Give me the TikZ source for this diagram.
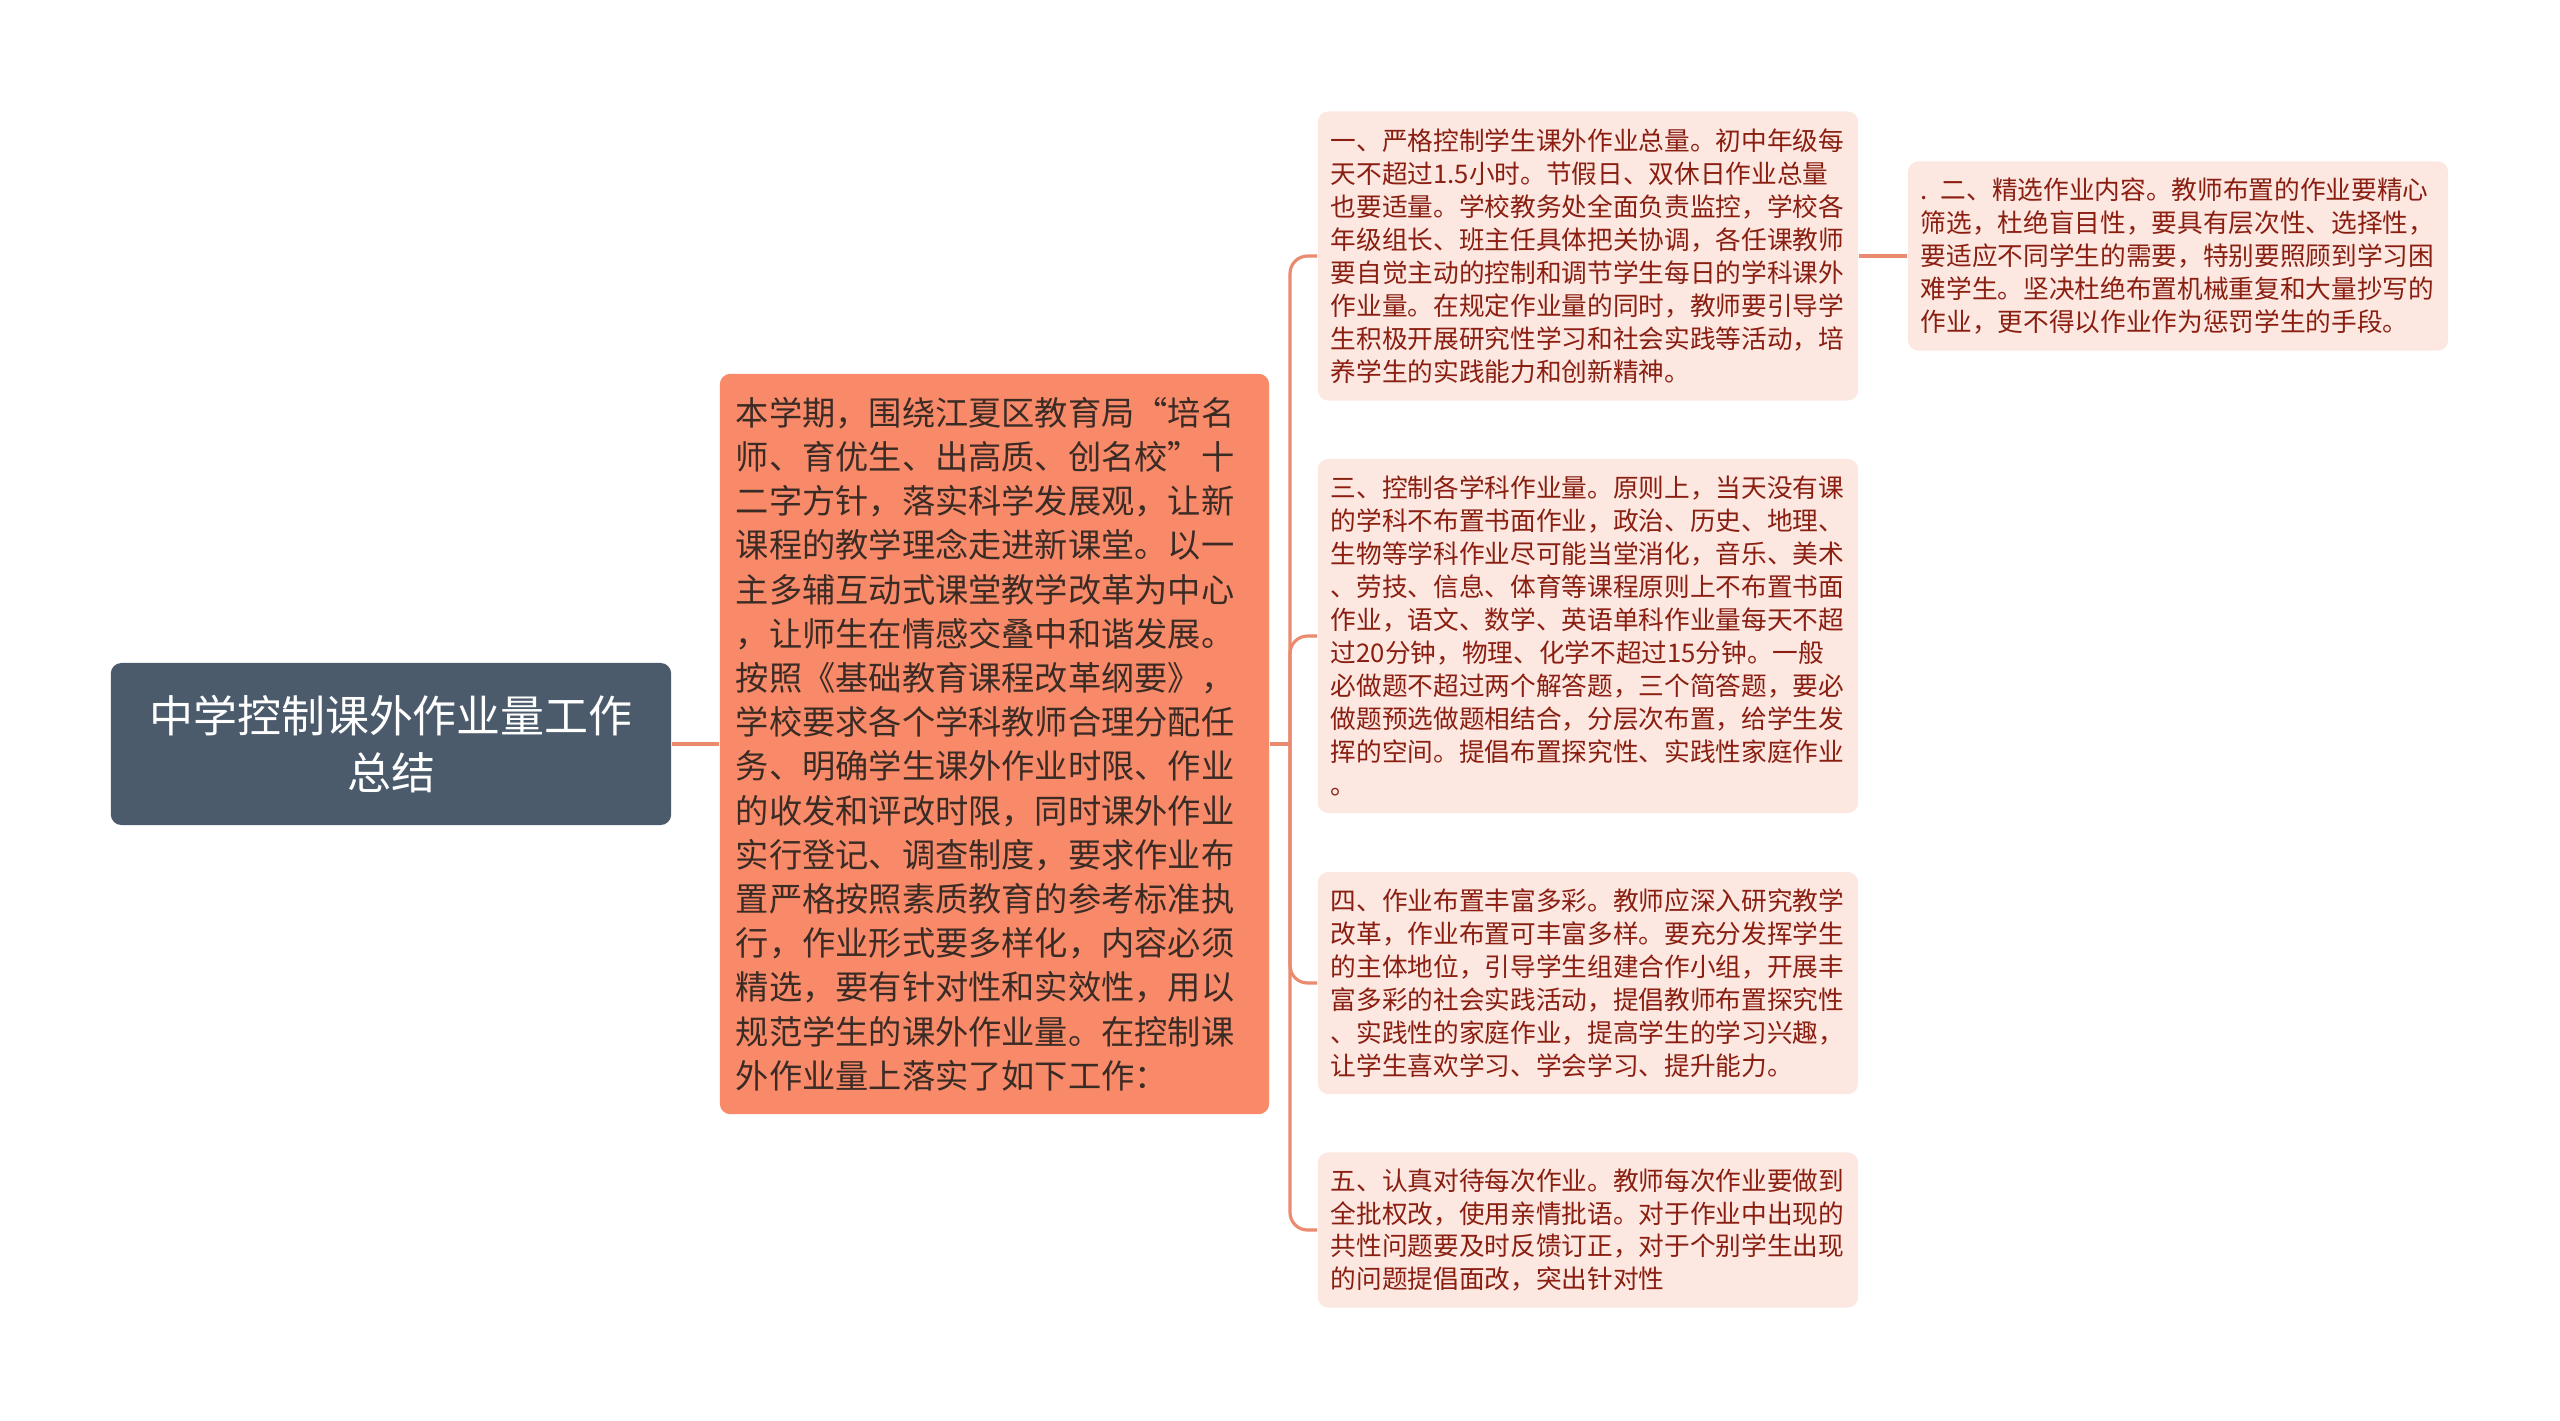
\documentclass[tikz,border=0pt]{standalone}
\usepackage{fontspec}
\setmainfont{Noto Sans CJK SC}
\definecolor{rootfill}{HTML}{4B5B6B}
\definecolor{mainfill}{HTML}{F88A69}
\definecolor{subfill}{HTML}{FCE7E1}
\definecolor{subtext}{HTML}{8A1F11}
\definecolor{maintext}{HTML}{3B2B25}
\definecolor{linkcol}{HTML}{EA8A6E}

\begin{document}
\begin{tikzpicture}[x=0.01cm, y=-0.01cm,
    link/.style={draw=linkcol, line width=0.9pt},
    rootbox/.style={fill=rootfill, rounded corners=3pt, text=white, align=center,
        minimum width=5.6cm, minimum height=1.62cm, font=\fontsize{12.5}{16.2}\selectfont},
    mainbox/.style={fill=mainfill, rounded corners=3pt, text=maintext, align=left,
        text width=5.17cm, inner xsep=0.16cm, minimum height=7.4cm,
        font=\fontsize{9.45}{12.57}\selectfont},
    subbox/.style={fill=subfill, rounded corners=3pt, text=subtext, align=left,
        text width=5.14cm, inner xsep=0.13cm, font=\fontsize{7.3}{9.37}\selectfont}]
    \useasboundingbox (0,0) rectangle (2560,1420);
    \node[rootbox] (root) at (391,744) {中学控制课外作业量工作\\总结};
    \node[mainbox] (main) at (994.5,744) {本学期，围绕江夏区教育局“培名\\师、育优生、出高质、创名校”十\\二字方针，落实科学发展观，让新\\课程的教学理念走进新课堂。以一\\主多辅互动式课堂教学改革为中心\\，让师生在情感交叠中和谐发展。\\按照《基础教育课程改革纲要》，\\学校要求各个学科教师合理分配任\\务、明确学生课外作业时限、作业\\的收发和评改时限，同时课外作业\\实行登记、调查制度，要求作业布\\置严格按照素质教育的参考标准执\\行，作业形式要多样化，内容必须\\精选，要有针对性和实效性，用以\\规范学生的课外作业量。在控制课\\外作业量上落实了如下工作：};
    \node[subbox, minimum height=2.89cm] (c1) at (1588,256) {一、严格控制学生课外作业总量。初中年级每\\天不超过1.5小时。节假日、双休日作业总量\\也要适量。学校教务处全面负责监控，学校各\\年级组长、班主任具体把关协调，各任课教师\\要自觉主动的控制和调节学生每日的学科课外\\作业量。在规定作业量的同时，教师要引导学\\生积极开展研究性学习和社会实践等活动，培\\养学生的实践能力和创新精神。};
    \node[subbox, minimum height=1.89cm] (c2) at (2178,256) {. 二、精选作业内容。教师布置的作业要精心\\筛选，杜绝盲目性，要具有层次性、选择性，\\要适应不同学生的需要，特别要照顾到学习困\\难学生。坚决杜绝布置机械重复和大量抄写的\\作业，更不得以作业作为惩罚学生的手段。};
    \node[subbox, minimum height=3.54cm] (c3) at (1588,636) {三、控制各学科作业量。原则上，当天没有课\\的学科不布置书面作业，政治、历史、地理、\\生物等学科作业尽可能当堂消化，音乐、美术\\、劳技、信息、体育等课程原则上不布置书面\\作业，语文、数学、英语单科作业量每天不超\\过20分钟，物理、化学不超过15分钟。一般\\必做题不超过两个解答题，三个简答题，要必\\做题预选做题相结合，分层次布置，给学生发\\挥的空间。提倡布置探究性、实践性家庭作业\\。};
    \node[subbox, minimum height=2.22cm] (c4) at (1588,983) {四、作业布置丰富多彩。教师应深入研究教学\\改革，作业布置可丰富多样。要充分发挥学生\\的主体地位，引导学生组建合作小组，开展丰\\富多彩的社会实践活动，提倡教师布置探究性\\、实践性的家庭作业，提高学生的学习兴趣，\\让学生喜欢学习、学会学习、提升能力。};
    \node[subbox, minimum height=1.55cm] (c5) at (1588,1230) {五、认真对待每次作业。教师每次作业要做到\\全批权改，使用亲情批语。对于作业中出现的\\共性问题要及时反馈订正，对于个别学生出现\\的问题提倡面改，突出针对性};
    \coordinate (fork) at (1290,744);
    \draw[link] (root.east) -- (main.west);
    \draw[link] (main.east) -- (fork);
    \foreach \n in {c1,c3,c4,c5}
        \draw[link, rounded corners=5pt] (fork) |- (\n.west);
    \draw[link] (c1.east) -- (c2.west);
\end{tikzpicture}
\end{document}
